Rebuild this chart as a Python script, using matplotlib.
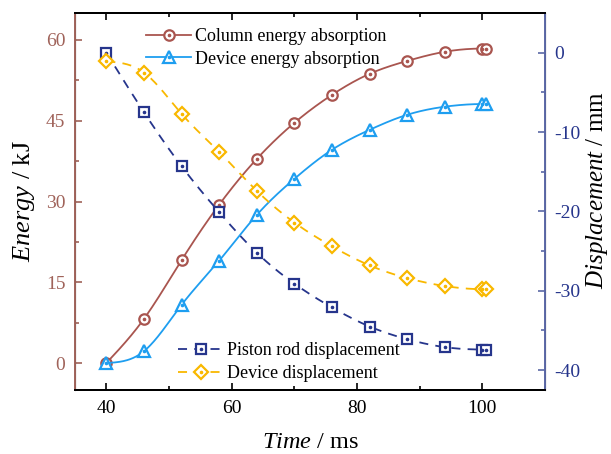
import numpy as np
import matplotlib
matplotlib.use("Agg")
import matplotlib.pyplot as plt
from matplotlib.lines import Line2D
from matplotlib.ticker import MultipleLocator

plt.rcParams["font.family"] = ["Liberation Serif", "DejaVu Serif"]
plt.rcParams["mathtext.fontset"] = "custom"
plt.rcParams["mathtext.rm"] = "Liberation Serif"
plt.rcParams["mathtext.it"] = "Liberation Serif:italic"
plt.rcParams["axes.unicode_minus"] = False

# time samples (ms); the last point is repeated slightly past 100
time_ms = [40, 46, 52, 58, 64, 70, 76, 82, 88, 94, 100, 100.6]
column_energy = [0.0, 8.2, 19.1, 29.4, 37.9, 44.6, 49.8, 53.7, 56.1, 57.8, 58.4, 58.4]
device_energy = [0.0, 2.2, 10.8, 19.0, 27.5, 34.2, 39.6, 43.3, 46.1, 47.6, 48.1, 48.1]
piston_disp = [0.0, -7.5, -14.3, -20.1, -25.2, -29.1, -32.1, -34.5, -36.1, -37.1, -37.4, -37.4]
device_disp = [-1.1, -2.5, -7.7, -12.5, -17.4, -21.4, -24.4, -26.8, -28.4, -29.4, -29.8, -29.8]

C_COL = "#a9554f"
C_DEV = "#1e9ef0"
C_PIS = "#26358c"
C_DD = "#f9b800"
C_LEFT = "#a0635a"
C_RIGHT = "#5b68a6"


def spline(x, y, n=400):
    """Natural cubic spline, only used to draw a smooth curve through the points."""
    x = np.asarray(x, float)
    y = np.asarray(y, float)
    h = np.diff(x)
    m = len(x)
    A = np.zeros((m, m))
    b = np.zeros(m)
    A[0, 0] = A[-1, -1] = 1
    for i in range(1, m - 1):
        A[i, i - 1] = h[i - 1]
        A[i, i] = 2 * (h[i - 1] + h[i])
        A[i, i + 1] = h[i]
        b[i] = 6 * ((y[i + 1] - y[i]) / h[i] - (y[i] - y[i - 1]) / h[i - 1])
    M = np.linalg.solve(A, b)
    xs = np.linspace(x[0], x[-1], n)
    idx = np.clip(np.searchsorted(x, xs) - 1, 0, m - 2)
    x0, x1 = x[idx], x[idx + 1]
    hh = x1 - x0
    t0, t1 = x1 - xs, xs - x0
    ys = (M[idx] * t0 ** 3 + M[idx + 1] * t1 ** 3) / (6 * hh) \
        + (y[idx] / hh - M[idx] * hh / 6) * t0 + (y[idx + 1] / hh - M[idx + 1] * hh / 6) * t1
    return xs, ys


fig = plt.figure(figsize=(6.11, 4.54), dpi=100)
ax = fig.add_axes([75 / 611, 64 / 454, 470 / 611, 377 / 454])
ax2 = ax.twinx()

series = [
    (ax, time_ms, column_energy, C_COL, "-", "o", 7.5, "Column energy absorption"),
    (ax, time_ms, device_energy, C_DEV, "-", "^", 8.5, "Device energy absorption"),
    (ax2, time_ms, piston_disp, C_PIS, "--", "s", 7, "Piston rod displacement"),
    (ax2, time_ms, device_disp, C_DD, "--", "D", 7, "Device displacement"),
]

handles = []
for a, x, y, c, ls, mk, ms, lab in series:
    xs, ys = spline(x, y)
    line_kw = dict(color=c, lw=1.3, ls=ls)
    if ls == "--":
        line_kw["dashes"] = (5, 4)
    a.plot(xs, ys, **line_kw)
    a.plot(x, y, ls="none", marker=mk, ms=ms, mfc="white", mec=c, mew=1.6)
    a.plot(x, y, ls="none", marker="o", ms=1.6, color=c)
    h1 = Line2D([], [], marker=mk, ms=ms, mfc="white", mec=c, mew=1.6, **line_kw)
    h2 = Line2D([], [], ls="none", marker="o", ms=1.6, color=c)
    handles.append(((h1, h2), lab))

ax.set_xlim(35, 110)
ax.set_ylim(-5, 65)
ax2.set_ylim(-42.5, 5)

ax.xaxis.set_major_locator(MultipleLocator(20))
ax.xaxis.set_minor_locator(MultipleLocator(10))
ax.yaxis.set_major_locator(MultipleLocator(15))
ax.yaxis.set_minor_locator(MultipleLocator(7.5))
ax2.yaxis.set_major_locator(MultipleLocator(10))
ax2.yaxis.set_minor_locator(MultipleLocator(5))

ax.tick_params(axis="x", which="both", direction="in", top=True, labelsize=14, pad=7)
ax.tick_params(axis="x", which="major", length=5, width=1.2)
ax.tick_params(axis="x", which="minor", length=3, width=1.2)
ax.tick_params(axis="y", which="both", direction="in", colors=C_LEFT, labelsize=14,
               labelcolor=C_LEFT, pad=7)
ax.tick_params(axis="y", which="major", length=5, width=1.2)
ax.tick_params(axis="y", which="minor", length=3, width=1.2)
ax2.tick_params(axis="y", which="both", direction="in", colors=C_RIGHT, labelsize=14,
                labelcolor=C_PIS, pad=7)
ax2.tick_params(axis="y", which="major", length=5, width=1.2)
ax2.tick_params(axis="y", which="minor", length=3, width=1.2)

for s in ["top", "bottom"]:
    ax.spines[s].set_linewidth(1.4)
    ax2.spines[s].set_linewidth(1.4)
ax2.spines["left"].set_color(C_LEFT)
ax2.spines["left"].set_linewidth(1.4)
ax2.spines["right"].set_color(C_RIGHT)
ax2.spines["right"].set_linewidth(1.4)

ax.set_xlabel(r"$\mathit{Time}$ / ms", fontsize=17.5, labelpad=11)
ax.set_ylabel(r"$\mathit{Energy}$ / kJ", fontsize=19, labelpad=6)
fig.text(597 / 611, 1 - 190 / 454, r"$\mathit{Displacement}$ / mm", fontsize=18,
         rotation=90, ha="center", va="center")

leg1 = ax2.legend([h for h, _ in handles[:2]], [l for _, l in handles[:2]],
                  loc="upper left", bbox_to_anchor=(0.132, 0.984), frameon=False,
                  fontsize=13, borderpad=0, handlelength=2.5, handletextpad=0.2,
                  labelspacing=0.31)
ax2.add_artist(leg1)
ax2.legend([h for h, _ in handles[2:]], [l for _, l in handles[2:]],
           loc="upper left", bbox_to_anchor=(0.2, 0.150), frameon=False,
           fontsize=13, borderpad=0, handlelength=2.5, handletextpad=0.2,
           labelspacing=0.31)

fig.savefig("out.png", dpi=100)
